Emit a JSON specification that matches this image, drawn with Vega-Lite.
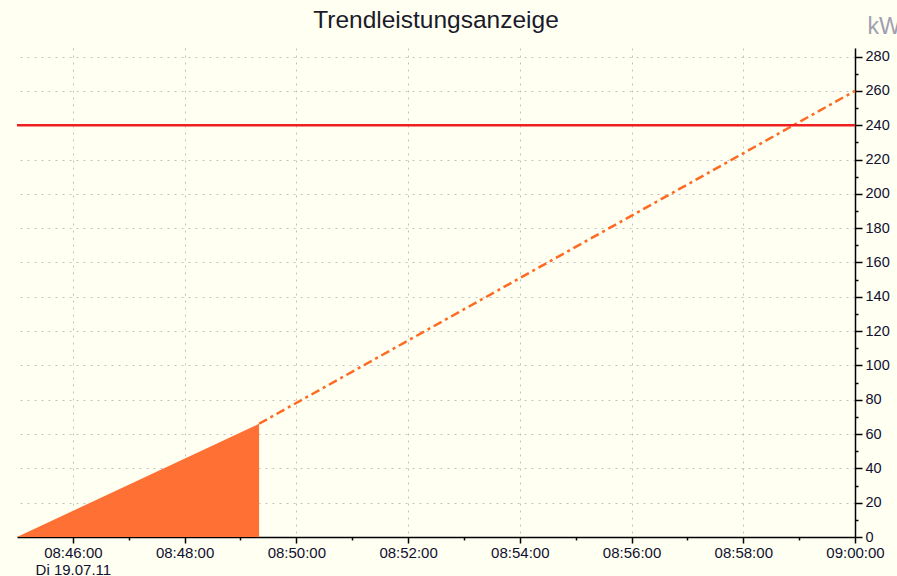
{
  "$schema": "https://vega.github.io/schema/vega-lite/v6.json",
  "width": 838,
  "height": 489,
  "autosize": {"type": "none"},
  "padding": {"left": 17, "top": 48, "right": 42, "bottom": 39},
  "background": "#FFFFF2",
  "config": {"view": {"stroke": null}},
  "title": {
    "text": "Trendleistungsanzeige",
    "font": "Liberation Sans",
    "fontSize": 24.5,
    "fontWeight": "normal",
    "color": "#1a1a2a",
    "anchor": "middle",
    "frame": "group",
    "offset": 15,
    "dy": 33
  },
  "datasets": {
    "measured": [
      {"t": "2011-07-19T08:45:00", "v": 0},
      {"t": "2011-07-19T08:49:20", "v": 66}
    ],
    "trend": [
      {"t": "2011-07-19T08:49:20", "v": 66},
      {"t": "2011-07-19T09:00:00", "v": 260}
    ],
    "limit": [{"v": 240}]
  },
  "resolve": {"axis": {"x": "independent", "y": "independent"}},
  "layer": [
    {
      "data": {"name": "measured"},
      "mark": {"type": "area", "color": "#FF7035"},
      "encoding": {
        "x": {
          "field": "t",
          "type": "temporal",
          "scale": {
            "domain": [
              {"year": 2011, "month": 7, "date": 19, "hours": 8, "minutes": 45},
              {"year": 2011, "month": 7, "date": 19, "hours": 9, "minutes": 0}
            ],
            "nice": false
          },
          "axis": {
            "orient": "bottom",
            "title": null,
            "format": "%H:%M:%S",
            "labelExpr": "minutes(datum.value) == 46 ? [datum.label, 'Di 19.07.11'] : datum.label",
            "labelLineHeight": 17,
            "values": [
              {"year": 2011, "month": 7, "date": 19, "hours": 8, "minutes": 46},
              {"year": 2011, "month": 7, "date": 19, "hours": 8, "minutes": 48},
              {"year": 2011, "month": 7, "date": 19, "hours": 8, "minutes": 50},
              {"year": 2011, "month": 7, "date": 19, "hours": 8, "minutes": 52},
              {"year": 2011, "month": 7, "date": 19, "hours": 8, "minutes": 54},
              {"year": 2011, "month": 7, "date": 19, "hours": 8, "minutes": 56},
              {"year": 2011, "month": 7, "date": 19, "hours": 8, "minutes": 58},
              {"year": 2011, "month": 7, "date": 19, "hours": 9, "minutes": 0}
            ],
            "tickSize": 6,
            "gridColor": "#C0C0C0",
            "gridDash": [2, 5],
            "grid": true,
            "domainColor": "#000000",
            "domainWidth": 1.5,
            "tickColor": "#000000",
            "tickWidth": 1.5,
            "labelFont": "Liberation Sans",
            "labelFontSize": 15,
            "labelColor": "#101030",
            "labelOverlap": false,
            "labelBound": false,
            "labelFlush": false,
            "labelPadding": 2
          }
        },
        "y": {
          "field": "v",
          "type": "quantitative",
          "scale": {"domain": [0, 285], "nice": false},
          "axis": {
            "orient": "right",
            "values": [0,20,40,60,80,100,120,140,160,180,200,220,240,260,280],
            "tickSize": 7,
            "gridColor": "#C0C0C0",
            "gridDash": [2, 5],
            "grid": true,
            "domainColor": "#000000",
            "domainWidth": 1.5,
            "tickColor": "#000000",
            "tickWidth": 1.5,
            "labelFont": "Liberation Sans",
            "labelFontSize": 14.5,
            "labelColor": "#101030",
            "labelOverlap": false,
            "labelBound": false,
            "labelFlush": false,
            "labelPadding": 3,
            "title": "kW",
            "titleAngle": 0,
            "titleX": 12,
            "titleY": -15,
            "titleAlign": "left",
            "titleBaseline": "alphabetic",
            "titleFont": "Liberation Sans",
            "titleFontSize": 23,
            "titleFontWeight": "normal",
            "titleColor": "#A0A0B0"
          }
        }
      }
    },
    {
      "data": {"name": "trend"},
      "mark": {"type": "line", "color": "#FF6A22", "strokeWidth": 2.5, "strokeDash": [9, 4, 3, 4]},
      "encoding": {
        "x": {
          "field": "t",
          "type": "temporal",
          "axis": {
            "orient": "bottom",
            "title": null,
            "labels": false,
            "grid": false,
            "domain": false,
            "values": [
              {"year": 2011, "month": 7, "date": 19, "hours": 8, "minutes": 47},
              {"year": 2011, "month": 7, "date": 19, "hours": 8, "minutes": 49},
              {"year": 2011, "month": 7, "date": 19, "hours": 8, "minutes": 51},
              {"year": 2011, "month": 7, "date": 19, "hours": 8, "minutes": 53},
              {"year": 2011, "month": 7, "date": 19, "hours": 8, "minutes": 55},
              {"year": 2011, "month": 7, "date": 19, "hours": 8, "minutes": 57},
              {"year": 2011, "month": 7, "date": 19, "hours": 8, "minutes": 59}
            ],
            "tickSize": 3,
            "tickColor": "#000000",
            "tickWidth": 1.5
          }
        },
        "y": {
          "field": "v",
          "type": "quantitative",
          "axis": {
            "orient": "right",
            "title": null,
            "labels": false,
            "grid": false,
            "domain": false,
            "values": [10,30,50,70,90,110,130,150,170,190,210,230,250,270],
            "tickSize": 3,
            "tickColor": "#000000",
            "tickWidth": 1.5
          }
        }
      }
    },
    {
      "data": {"name": "limit"},
      "mark": {"type": "rule", "color": "#F02020", "strokeWidth": 2.5},
      "encoding": {
        "y": {"field": "v", "type": "quantitative", "axis": null}
      }
    }
  ]
}
